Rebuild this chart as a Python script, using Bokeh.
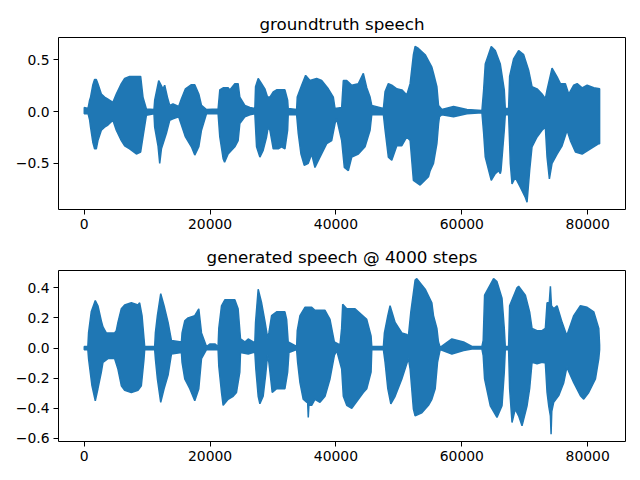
from bokeh.plotting import figure
from bokeh.models import Range1d, FixedTicker, Title
from bokeh.layouts import column
from bokeh.embed import file_html
from bokeh.resources import INLINE

# ---- data: amplitude envelopes (sample index, amplitude) ----
gt_title = "groundtruth speech"
gen_title = "generated speech @ 4000 steps"

gt_upper = [(0, 0.04), (600, 0.03), (850, 0.11), (1000, 0.14), (1370, 0.26), (1640, 0.31), (1910, 0.31),
            (2170, 0.27), (2710, 0.17), (3230, 0.14), (3760, 0.12), (4550, 0.09), (5090, 0.17), (5890, 0.27),
            (6420, 0.32), (7210, 0.34), (8280, 0.34), (8960, 0.34), (9330, 0.14), (9870, 0.025), (11080, 0.02),
            (11190, 0.11), (11830, 0.30), (12510, 0.22), (12780, 0.255), (13210, 0.14), (13580, 0.06),
            (14100, 0.075), (15000, 0.05), (15440, 0.125), (16080, 0.22), (17030, 0.26), (17560, 0.26),
            (18200, 0.17), (18630, 0.06), (19420, 0.02), (21270, 0.025), (21540, 0.21), (22070, 0.23),
            (22860, 0.23), (23130, 0.21), (23930, 0.27), (24450, 0.27), (24720, 0.14), (25520, 0.06),
            (26320, 0.04), (27110, 0.03), (27220, 0.24), (27640, 0.32), (28180, 0.27), (28700, 0.22),
            (29130, 0.14), (29500, 0.14), (30030, 0.19), (30570, 0.21), (31890, 0.21), (32320, 0.11),
            (32410, 0.03), (33750, 0.02), (33850, 0.14), (34550, 0.255), (35180, 0.35), (35870, 0.30),
            (36930, 0.32), (37730, 0.30), (38780, 0.22), (39580, 0.14), (39850, 0.03), (40910, 0.04),
            (41170, 0.30), (41710, 0.30), (42510, 0.255), (43560, 0.27), (44350, 0.37), (44890, 0.23),
            (45420, 0.14), (45690, 0.06), (47540, 0.03), (47810, 0.195), (48330, 0.27), (48870, 0.255),
            (49670, 0.22), (50470, 0.21), (51260, 0.16), (51790, 0.27), (52310, 0.55), (52580, 0.63),
            (53110, 0.61), (54180, 0.55), (55240, 0.43), (55500, 0.37), (56040, 0.24), (56300, 0.06),
            (56830, 0.02), (58690, 0.05), (60810, 0.02), (63200, 0.01), (63460, 0.20), (63730, 0.46),
            (64680, 0.63), (65320, 0.59), (66120, 0.46), (66750, 0.21), (66910, 0.03), (67440, 0.03),
            (67600, 0.34), (68230, 0.51), (69030, 0.59), (69830, 0.55), (70620, 0.40), (71160, 0.24),
            (71960, 0.22), (72750, 0.17), (73280, 0.125), (73550, 0.21), (74340, 0.42), (75140, 0.335),
            (75670, 0.27), (76460, 0.27), (76990, 0.17), (77790, 0.255), (78330, 0.27), (79120, 0.23),
            (79920, 0.255), (80970, 0.23), (81900, 0.22)]

gt_lower = [(0, -0.02), (600, -0.02), (850, -0.08), (1000, -0.15), (1370, -0.30), (1640, -0.36), (1910, -0.36),
            (2170, -0.28), (2710, -0.18), (3230, -0.15), (3760, -0.13), (4550, -0.084), (5090, -0.18),
            (5890, -0.28), (6420, -0.33), (7210, -0.36), (8280, -0.41), (8960, -0.39), (9330, -0.245),
            (9870, -0.036), (11080, -0.02), (11190, -0.15), (11720, -0.33), (11990, -0.50), (12260, -0.36),
            (13050, -0.21), (13580, -0.084), (14100, -0.07), (15000, -0.05), (15440, -0.13), (16080, -0.245),
            (17030, -0.34), (17560, -0.42), (18200, -0.34), (18630, -0.18), (19420, -0.02), (21270, -0.02),
            (21540, -0.245), (22070, -0.455), (22300, -0.49), (22860, -0.41), (23930, -0.34), (24450, -0.28),
            (24720, -0.116), (25520, -0.05), (26320, -0.03), (27110, -0.02), (27380, -0.34), (27910, -0.44),
            (28430, -0.375), (28970, -0.245), (29230, -0.15), (29500, -0.18), (30030, -0.36), (30820, -0.36),
            (31360, -0.34), (31890, -0.36), (32320, -0.18), (32410, -0.03), (33750, -0.03), (34010, -0.21),
            (34440, -0.41), (34960, -0.52), (35600, -0.50), (36140, -0.41), (36660, -0.54), (37460, -0.44),
            (38530, -0.31), (39320, -0.28), (39850, -0.116), (40120, -0.07), (40910, -0.28), (41330, -0.54),
            (41970, -0.57), (42510, -0.44), (43560, -0.41), (44620, -0.34), (45420, -0.18), (45690, -0.03),
            (47540, -0.03), (47810, -0.18), (48330, -0.44), (48870, -0.47), (49670, -0.33), (50470, -0.33),
            (51260, -0.245), (51790, -0.28), (52310, -0.665), (53380, -0.71), (54700, -0.63), (54970, -0.57),
            (55500, -0.50), (56040, -0.31), (56300, -0.12), (56450, -0.05), (56830, -0.03), (58690, -0.05),
            (60810, -0.02), (63200, -0.01), (63460, -0.20), (63730, -0.44), (64680, -0.665), (65320, -0.60),
            (65850, -0.57), (66120, -0.60), (66230, -0.57), (66750, -0.18), (66910, -0.03), (67440, -0.03),
            (67710, -0.50), (67980, -0.70), (68500, -0.635), (69300, -0.73), (70100, -0.83), (70370, -0.875),
            (70780, -0.57), (71160, -0.34), (71960, -0.245), (72750, -0.18), (73280, -0.15), (73550, -0.44),
            (73920, -0.65), (74340, -0.50), (75140, -0.41), (75940, -0.33), (76730, -0.18), (77260, -0.28),
            (78060, -0.39), (79120, -0.41), (80440, -0.36), (81770, -0.31), (81900, -0.31)]

gen_upper = [(0, 0.01), (570, 0.01), (680, 0.10), (1110, 0.24), (1750, 0.315), (2170, 0.28), (2710, 0.18),
             (2970, 0.14), (3500, 0.10), (4820, 0.10), (5090, 0.115), (5350, 0.17), (5890, 0.26), (6420, 0.285),
             (7480, 0.30), (8540, 0.285), (8800, 0.30), (9180, 0.215), (9500, 0.06), (9600, 0.01), (11190, 0.01),
             (11300, 0.10), (11620, 0.215), (12150, 0.36), (12680, 0.28), (13320, 0.17), (13850, 0.05),
             (15440, 0.04), (15540, 0.10), (15970, 0.18), (16500, 0.20), (17560, 0.215), (18200, 0.26),
             (18630, 0.10), (19420, 0.01), (20000, 0.027), (20750, 0.027), (21270, 0.01), (21380, 0.13),
             (21810, 0.28), (22340, 0.32), (23930, 0.32), (24450, 0.26), (24830, 0.06), (25520, 0.04),
             (26050, 0.06), (26840, 0.04), (27110, 0.04), (27220, 0.17), (27640, 0.39), (28180, 0.30),
             (28700, 0.18), (29130, 0.07), (29340, 0.10), (29770, 0.215), (30570, 0.24), (31890, 0.24),
             (32160, 0.19), (32410, 0.04), (33750, 0.01), (33850, 0.115), (34280, 0.215), (35070, 0.27),
             (36140, 0.27), (36660, 0.25), (38260, 0.25), (39050, 0.19), (39740, 0.04), (40640, 0.02),
             (40900, 0.13), (41070, 0.29), (41710, 0.26), (43030, 0.26), (43560, 0.24), (44890, 0.19),
             (45580, 0.08), (45690, 0.01), (47540, 0.01), (47700, 0.10), (48240, 0.215), (48600, 0.28),
             (49400, 0.17), (50470, 0.10), (51260, 0.09), (51520, 0.08), (51900, 0.24), (52580, 0.45),
             (52850, 0.46), (54180, 0.39), (55240, 0.30), (55500, 0.215), (56040, 0.13), (56290, 0.04),
             (56560, 0.005), (58420, 0.06), (60280, 0.04), (61610, 0.01), (63200, 0.01), (63400, 0.05),
             (63620, 0.35), (65050, 0.46), (65590, 0.44), (66390, 0.33), (66750, 0.13), (66910, 0.01),
             (67440, 0.01), (67600, 0.28), (68770, 0.40), (69030, 0.41), (70100, 0.35), (70780, 0.24),
             (71160, 0.13), (71960, 0.115), (72750, 0.115), (73280, 0.13), (73550, 0.30), (73900, 0.30),
             (74080, 0.41), (74250, 0.28), (74600, 0.26), (75140, 0.28), (75940, 0.17), (76620, 0.09),
             (76830, 0.10), (77790, 0.215), (78850, 0.28), (79920, 0.27), (80970, 0.24), (81770, 0.13),
             (81900, 0.02)]

gen_lower = [(0, -0.011), (570, -0.011), (680, -0.07), (1220, -0.25), (1750, -0.35), (2170, -0.27),
             (2710, -0.16), (2970, -0.095), (3760, -0.07), (4820, -0.07), (5350, -0.14), (5890, -0.25),
             (6420, -0.28), (7480, -0.295), (8540, -0.28), (9070, -0.25), (9500, -0.07), (9600, -0.011),
             (11190, -0.011), (11300, -0.07), (11620, -0.205), (12150, -0.36), (12680, -0.27), (13320, -0.18),
             (13850, -0.04), (15440, -0.03), (15540, -0.095), (15970, -0.205), (16770, -0.27), (17560, -0.35),
             (18200, -0.27), (18630, -0.07), (19420, -0.011), (21270, -0.011), (21380, -0.12), (21810, -0.295),
             (22070, -0.38), (22860, -0.34), (23660, -0.32), (24190, -0.295), (24720, -0.16), (24830, -0.03),
             (26050, -0.04), (26840, -0.03), (27110, -0.03), (27270, -0.14), (27640, -0.32), (27910, -0.37),
             (28430, -0.32), (28820, -0.18), (29130, -0.05), (29340, -0.095), (29870, -0.295), (30570, -0.27),
             (31890, -0.27), (32320, -0.16), (32530, -0.03), (33750, -0.011), (33910, -0.095), (34280, -0.23),
             (34800, -0.34), (35340, -0.36), (35500, -0.36), (35600, -0.46), (35700, -0.38), (36140, -0.38),
             (36660, -0.34), (37460, -0.36), (38260, -0.32), (39050, -0.205), (39740, -0.05), (40120, -0.017),
             (40910, -0.14), (41170, -0.32), (41710, -0.38), (42510, -0.40), (43560, -0.34), (44350, -0.295),
             (44890, -0.27), (45580, -0.16), (45690, -0.011), (47540, -0.011), (47810, -0.095), (48240, -0.27),
             (48720, -0.37), (49400, -0.32), (50470, -0.205), (51520, -0.07), (51790, -0.14), (52310, -0.405),
             (52580, -0.45), (53650, -0.43), (54700, -0.38), (55240, -0.34), (55770, -0.27), (56140, -0.095),
             (56560, -0.011), (58420, -0.04), (60280, -0.017), (61610, -0.007), (63200, -0.007), (63400, -0.05),
             (63620, -0.205), (64530, -0.383), (65590, -0.46), (66390, -0.383), (66750, -0.16), (66910, -0.011),
             (67440, -0.011), (67600, -0.27), (67980, -0.494), (68500, -0.405), (69030, -0.45), (69570, -0.516),
             (70370, -0.383), (70780, -0.27), (71160, -0.095), (71960, -0.105), (72750, -0.095), (73280, -0.10),
             (73550, -0.295), (73810, -0.383), (74080, -0.45), (74190, -0.571), (74300, -0.42), (74600, -0.36),
             (75400, -0.316), (76200, -0.23), (76730, -0.12), (76830, -0.14), (77790, -0.23), (78850, -0.316),
             (79380, -0.339), (80170, -0.295), (81240, -0.205), (81770, -0.07), (81900, -0.011)]

x_ticks = [0, 20000, 40000, 60000, 80000]
x_tick_labels = ["0", "20000", "40000", "60000", "80000"]
gt_y_ticks = [-0.5, 0.0, 0.5]
gt_y_tick_labels = ["\u22120.5", "0.0", "0.5"]
gen_y_ticks = [-0.6, -0.4, -0.2, 0.0, 0.2, 0.4]
gen_y_tick_labels = ["\u22120.6", "\u22120.4", "\u22120.2", "0.0", "0.2", "0.4"]

COLOR = "#1f77b4"
FONT = "DejaVu Sans"


def make_fig(title, upper, lower, yr, yticks, ylabels, b_top, b_bottom):
    p = figure(width=640, height=240, output_backend="svg", toolbar_location=None,
               x_range=Range1d(-4096, 86016), y_range=Range1d(*yr),
               min_border_left=58, min_border_right=15,
               min_border_top=b_top, min_border_bottom=b_bottom)
    p.title = Title(text=title, align="center", text_font=FONT, text_font_size="16.7px",
                    text_font_style="normal", text_color="black", standoff=7)
    xs = [x for x, _ in upper] + [x for x, _ in reversed(lower)]
    ys = [y for _, y in upper] + [y for _, y in reversed(lower)]
    p.patch(xs, ys, fill_color=COLOR, line_color=COLOR, line_width=1.5)
    p.grid.visible = False
    p.outline_line_color = "black"
    p.outline_line_width = 1
    p.outline_line_alpha = 1
    for ax in (p.xaxis[0], p.yaxis[0]):
        ax.axis_line_color = None
        ax.major_tick_in = 0
        ax.major_tick_out = 5
        ax.major_tick_line_color = "black"
        ax.minor_tick_line_color = None
        ax.major_label_text_font = FONT
        ax.major_label_text_font_size = "13.9px"
        ax.major_label_text_color = "black"
        ax.major_label_standoff = 4
    p.xaxis.ticker = FixedTicker(ticks=x_ticks)
    p.xaxis.major_label_overrides = dict(zip(x_ticks, x_tick_labels))
    p.yaxis.ticker = FixedTicker(ticks=yticks)
    p.yaxis.major_label_overrides = dict(zip(yticks, ylabels))
    return p


p1 = make_fig(gt_title, gt_upper, gt_lower, (-0.946, 0.716), gt_y_ticks, gt_y_tick_labels, 37, 31)
p2 = make_fig(gen_title, gen_upper, gen_lower, (-0.62, 0.514), gen_y_ticks, gen_y_tick_labels, 30, 39)

layout = column(p1, p2, spacing=0)
open("out.html", "w").write(file_html(layout, INLINE))
